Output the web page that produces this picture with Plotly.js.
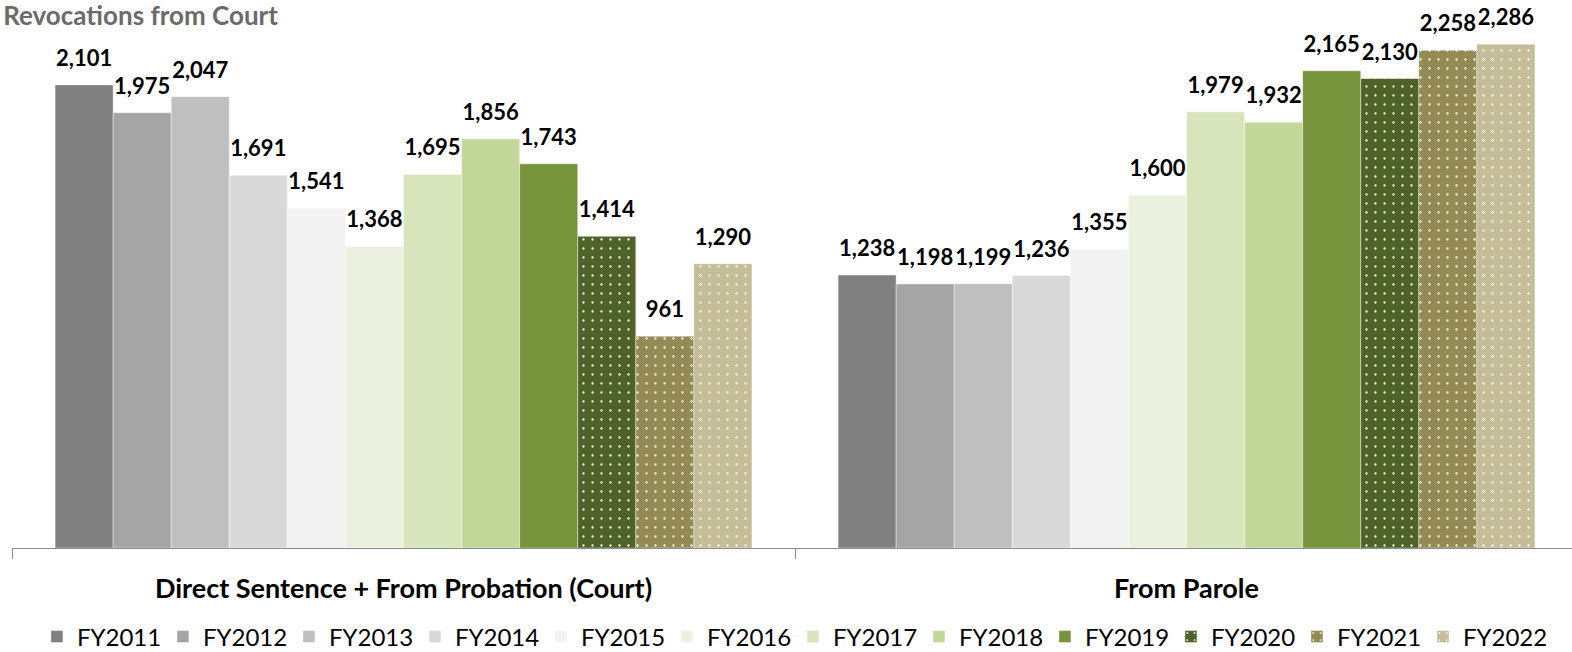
<!DOCTYPE html>
<html>
<head>
<meta charset="utf-8">
<script src="https://cdn.plot.ly/plotly-3.0.1.min.js"></script>
<style>html,body{margin:0;padding:0;background:#fff;}#chart{width:1572px;height:652px;}</style>
</head>
<body>
<div id="chart"></div>
<script>
const categories = ["Direct Sentence + From Probation (Court)", "From Parole"];
const years = ["FY2011","FY2012","FY2013","FY2014","FY2015","FY2016","FY2017","FY2018","FY2019","FY2020","FY2021","FY2022"];
const courtValues  = [2101,1975,2047,1691,1541,1368,1695,1856,1743,1414,961,1290];
const paroleValues = [1238,1198,1199,1236,1355,1600,1979,1932,2165,2130,2258,2286];
const colors = ["#808080","#a5a5a5","#bfbfbf","#d9d9d9","#f2f2f2","#ebf1de","#d8e4bc","#c4d79b","#77933c","#4f6228","#948a54","#c4bd97"];
const dotted = [false,false,false,false,false,false,false,false,false,true,true,true];

const FONT = "Lato, 'Open Sans', sans-serif";
const barTraces = years.map((y, i) => {
  const vals = [courtValues[i], paroleValues[i]];
  const marker = {color: colors[i], line: {width: 0.6, color: "rgba(255,255,255,0.7)"}};
  if (dotted[i]) {
    marker.pattern = {shape: ".", bgcolor: colors[i], fgcolor: "#ffffff", size: 9, solidity: 0.05, fillmode: "replace"};
  }
  return {
    type: "bar", name: y, x: categories, y: vals,
    marker: marker, hoverinfo: "name+y"
  };
});
const labelTraces = years.map((y, i) => {
  const vals = [courtValues[i], paroleValues[i]];
  return {
    type: "scatter", mode: "markers+text", name: y + " labels", showlegend: false,
    x: categories, y: vals,
    text: vals.map(v => v.toLocaleString("en-US")),
    textposition: "top center",
    textfont: {family: FONT, size: 22, color: "#000000", weight: "bold"},
    marker: {size: 20, opacity: 0, color: colors[i]},
    cliponaxis: false, hoverinfo: "skip"
  };
});

const layout = {
  width: 1572, height: 652,
  paper_bgcolor: "#ffffff", plot_bgcolor: "#ffffff",
  margin: {l: 12, r: 0, t: 19, b: 104},
  barmode: "group", bargap: 0.11, bargroupgap: 0,
  scattermode: "group", scattergap: 0.11,
  font: {family: FONT, color: "#000"},
  title: {
    text: "<b>Revocations from Court</b>",
    x: 0.002, xref: "container", xanchor: "left",
    y: 0.975, yref: "container", yanchor: "middle",
    font: {family: FONT, size: 26, color: "#6b6b6b"}
  },
  xaxis: {
    type: "category",
    range: [-0.5, 1.4923],
    showline: true, linecolor: "#8c8c8c", linewidth: 1,
    ticks: "outside", tickson: "boundaries", ticklen: 10, tickcolor: "#8c8c8c",
    ticklabelstandoff: 17,
    tickfont: {family: FONT, size: 27, color: "#000", weight: "bold"},
    showgrid: false, zeroline: false, automargin: false
  },
  yaxis: {range: [0, 2400], visible: false, showgrid: false, zeroline: false},
  showlegend: true,
  legend: {
    orientation: "h",
    xref: "container", yref: "container",
    x: 0.0235, xanchor: "left",
    y: 0.023, yanchor: "middle",
    entrywidth: 81, entrywidthmode: "pixels",
    itemwidth: 30, traceorder: "normal",
    font: {family: FONT, size: 24, color: "#000"}
  }
};

Plotly.newPlot("chart", barTraces.concat(labelTraces), layout, {displayModeBar: false, staticPlot: true});
</script>
</body>
</html>
